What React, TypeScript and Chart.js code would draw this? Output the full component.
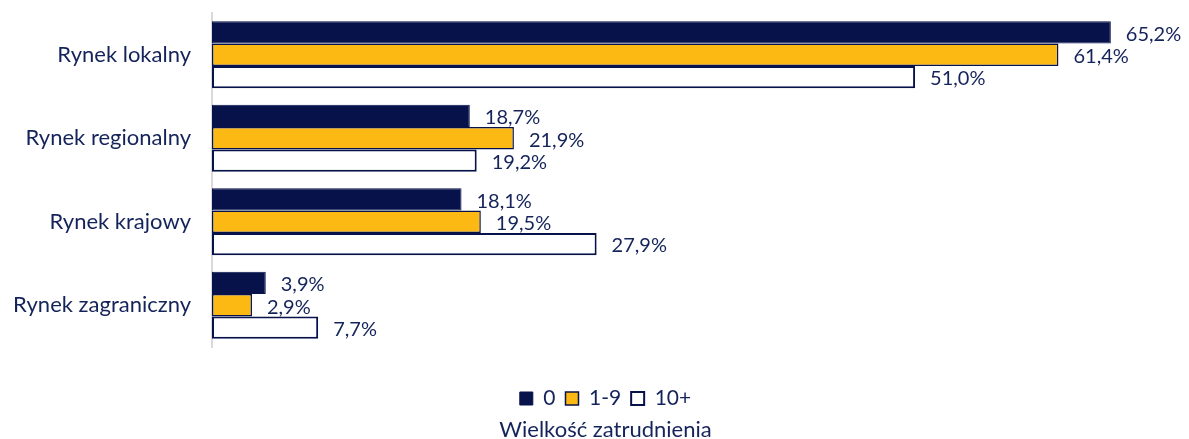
import React, { useEffect, useRef } from "react";
import { Chart, registerables } from "chart.js";

Chart.register(...registerables);

const categories = ["Rynek lokalny", "Rynek regionalny", "Rynek krajowy", "Rynek zagraniczny"];
const seriesNames = ["0", "1-9", "10+"];
const values0 = [65.2, 18.7, 18.1, 3.9];
const values19 = [61.4, 21.9, 19.5, 2.9];
const values10 = [51.0, 19.2, 27.9, 7.7];
const legendTitle = "Wielkość zatrudnienia";

const NAVY = "#07124a";
const TEXT = "#14235a";
const YELLOW = "#fdb913";
const FONT = "Lato, 'Open Sans', sans-serif";

const fmt = (v: number) => v.toFixed(1).replace(".", ",") + "%";

const labelPlugin = {
  id: "barLabels",
  afterDatasetsDraw(chart: any) {
    const ctx = chart.ctx;
    ctx.save();
    ctx.font = `20px ${FONT}`;
    ctx.fillStyle = TEXT;
    ctx.textAlign = "left";
    ctx.textBaseline = "middle";
    chart.data.datasets.forEach((ds: any, i: number) => {
      const meta = chart.getDatasetMeta(i);
      meta.data.forEach((el: any, j: number) => {
        ctx.fillText(fmt(ds.data[j]), el.x + 15, el.y + 2);
      });
    });
    ctx.restore();
  },
};

// shift the legend and its title block so they are centred like the original
const shiftBottomPlugin = {
  id: "shiftBottom",
  afterLayout(chart: any) {
    const dx = 34;
    if (chart.legend) chart.legend.left += dx;
    if (chart.titleBlock) chart.titleBlock.left += dx;
  },
};

export default function App() {
  const ref = useRef<HTMLCanvasElement | null>(null);
  useEffect(() => {
    if (!ref.current) return;
    const chart = new Chart(ref.current, {
      type: "bar",
      data: {
        labels: categories,
        datasets: [
          { label: seriesNames[0], data: values0, backgroundColor: NAVY, borderColor: NAVY, borderWidth: 1, borderSkipped: false },
          { label: seriesNames[1], data: values19, backgroundColor: YELLOW, borderColor: NAVY, borderWidth: 1.5, borderSkipped: false },
          { label: seriesNames[2], data: values10, backgroundColor: "#ffffff", borderColor: NAVY, borderWidth: 2, borderSkipped: false },
        ],
      },
      options: {
        indexAxis: "y",
        animation: false,
        responsive: true,
        maintainAspectRatio: false,
        datasets: { bar: { categoryPercentage: 0.8, barPercentage: 1 } },
        layout: { padding: { top: 13, right: 12, left: 0, bottom: -2 } },
        scales: {
          x: {
            min: 0,
            max: 70,
            display: true,
            grid: { display: false },
            border: { display: false },
            ticks: { display: false },
            afterFit: (s: any) => { s.height = 31; },
          },
          y: {
            grid: { display: false },
            border: { display: true, color: "#d9d9d9", width: 2 },
            ticks: { color: TEXT, font: { family: FONT, size: 22 }, padding: 13 },
            afterFit: (s: any) => {
              s.width = 212;
              s.paddingTop = 0;
              s.paddingBottom = 0;
            },
          },
        },
        plugins: {
          tooltip: { enabled: false },
          legend: {
            position: "bottom",
            labels: {
              color: TEXT,
              font: { family: FONT, size: 21 },
              boxWidth: 13,
              boxHeight: 13,
              padding: 10,
            },
          },
          title: {
            display: true,
            position: "bottom",
            text: legendTitle,
            color: TEXT,
            font: { family: FONT, size: 22, weight: "normal", lineHeight: 1 },
            padding: { top: 0, bottom: 0 },
          },
        },
      },
      plugins: [labelPlugin, shiftBottomPlugin],
    } as any);
    return () => chart.destroy();
  }, []);
  return (
    <div style={{ position: "fixed", left: 0, top: 0, width: 1189, height: 439, background: "#fff" }}>
      <canvas ref={ref} />
    </div>
  );
}
